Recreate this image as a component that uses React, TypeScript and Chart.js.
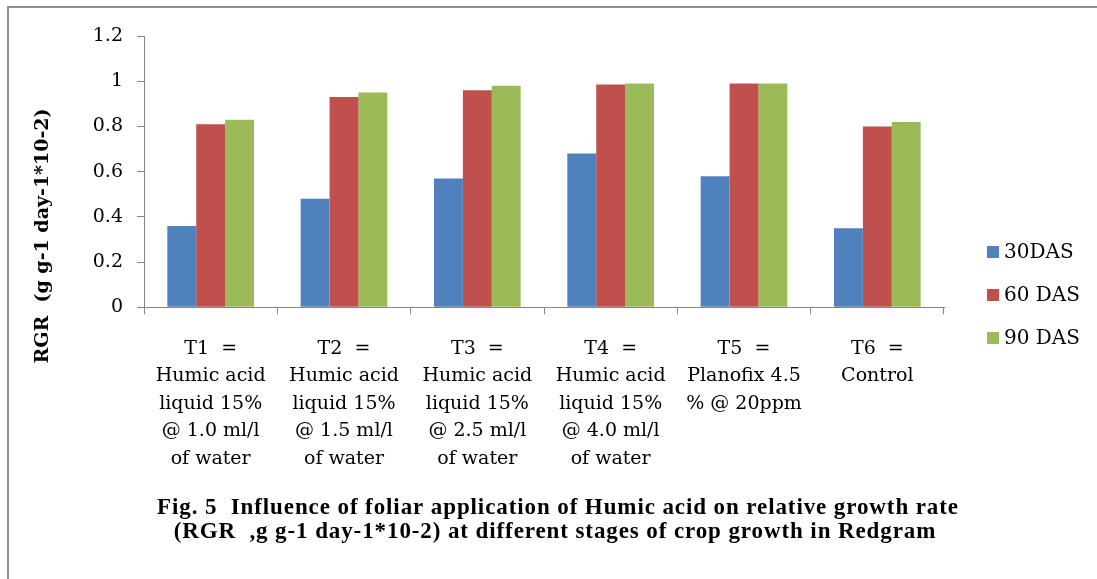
import React, { useEffect, useRef } from "react";
import { Chart, registerables } from "chart.js";

Chart.register(...registerables);

const categories: string[][] = [
  ["T1  =", "Humic acid", "liquid 15%", "@ 1.0 ml/l", "of water"],
  ["T2  =", "Humic acid", "liquid 15%", "@ 1.5 ml/l", "of water"],
  ["T3  =", "Humic acid", "liquid 15%", "@ 2.5 ml/l", "of water"],
  ["T4  =", "Humic acid", "liquid 15%", "@ 4.0 ml/l", "of water"],
  ["T5  =", "Planofix 4.5", "% @ 20ppm"],
  ["T6  =", "Control"],
];

const seriesNames = ["30DAS", "60 DAS", "90 DAS"];
const das30 = [0.36, 0.48, 0.57, 0.68, 0.58, 0.35];
const das60 = [0.81, 0.93, 0.96, 0.985, 0.99, 0.8];
const das90 = [0.83, 0.95, 0.98, 0.99, 0.99, 0.82];
const seriesColors = ["#4F81BD", "#C0504D", "#9BBB59"];

const yMin = 0;
const yMax = 1.2;
const yStep = 0.2;

const yTitle = "RGR  (g g-1 day-1*10-2)";
const captionLines = [
  "Fig. 5  Influence of foliar application of Humic acid on relative growth rate",
  "(RGR  ,g g-1 day-1*10-2) at different stages of crop growth in Redgram",
];

const AXIS_GRAY = "#868686";
const SERIF = "'DejaVu Serif', 'Liberation Serif', serif";

const decorations = {
  id: "decorations",
  afterDraw(chart: any) {
    const ctx = chart.ctx as CanvasRenderingContext2D;
    ctx.save();
    // y axis title
    ctx.translate(43, 236);
    ctx.rotate(-Math.PI / 2);
    ctx.font = `bold 19px ${SERIF}`;
    ctx.fillStyle = "#000";
    ctx.textAlign = "center";
    ctx.textBaseline = "middle";
    ctx.fillText(yTitle, 0, 0);
    ctx.restore();

    // legend
    ctx.save();
    ctx.font = `20px ${SERIF}`;
    ctx.textAlign = "left";
    ctx.textBaseline = "middle";
    const rows = [252, 295, 338];
    chart.data.datasets.forEach((ds: any, i: number) => {
      const y = rows[i];
      ctx.fillStyle = ds.backgroundColor;
      ctx.fillRect(987, y - 6, 12, 12);
      ctx.fillStyle = "#000";
      ctx.fillText(ds.label, 1004, y + 1);
    });
    ctx.restore();

    // caption
    ctx.save();
    ctx.font = `bold 23px 'Liberation Serif', serif`;
    (ctx as any).letterSpacing = "0.9px";
    ctx.fillStyle = "#000";
    ctx.textAlign = "center";
    ctx.textBaseline = "middle";
    ctx.fillText(captionLines[0], 558, 508);
    ctx.fillText(captionLines[1], 555, 532);
    ctx.restore();
  },
};

export default function App() {
  const canvasRef = useRef<HTMLCanvasElement | null>(null);

  useEffect(() => {
    if (!canvasRef.current) return;
    const chart = new Chart(canvasRef.current, {
      type: "bar",
      data: {
        labels: categories,
        datasets: [das30, das60, das90].map((vals, i) => ({
          label: seriesNames[i],
          data: vals,
          backgroundColor: seriesColors[i],
          borderWidth: 0,
          barPercentage: 1,
          categoryPercentage: 0.65,
        })),
      },
      options: {
        responsive: false,
        animation: false,
        layout: { padding: { left: 0, right: 153, top: 36, bottom: 0 } },
        plugins: {
          legend: { display: false },
          title: { display: false },
          tooltip: { enabled: false },
        },
        scales: {
          x: {
            grid: {
              display: true,
              drawOnChartArea: false,
              drawTicks: true,
              tickLength: 7,
              color: AXIS_GRAY,
              offset: true,
            },
            border: { color: AXIS_GRAY, width: 1 },
            ticks: {
              color: "#000",
              font: { family: SERIF, size: 19, lineHeight: "27.5px" },
              padding: 21,
              maxRotation: 0,
              autoSkip: false,
            },
            afterFit: (s: any) => {
              s.height = 579 - 307.3;
            },
          },
          y: {
            min: yMin,
            max: yMax,
            ticks: {
              stepSize: yStep,
              padding: 14,
              color: "#000",
              font: { family: SERIF, size: 19 },
              callback: (v: any) => String(Number(Number(v).toFixed(1))),
            },
            grid: {
              drawOnChartArea: false,
              drawTicks: true,
              tickLength: 7,
              color: AXIS_GRAY,
            },
            border: { color: AXIS_GRAY, width: 1 },
            afterFit: (s: any) => {
              s.width = 144;
            },
          },
        },
      },
      plugins: [decorations],
    });
    return () => chart.destroy();
  }, []);

  return (
    <div
      style={{
        position: "fixed",
        left: 0,
        top: 0,
        width: 1097,
        height: 579,
        overflow: "hidden",
        background: "#fff",
      }}
    >
      <canvas
        ref={canvasRef}
        width={1097}
        height={579}
        style={{ position: "absolute", left: 0, top: 0, width: 1097, height: 579 }}
      />
      <div
        style={{
          position: "absolute",
          left: 7,
          top: 6,
          width: 1100,
          height: 600,
          borderLeft: "2px solid #8f8f8f",
          borderTop: "2px solid #8f8f8f",
          pointerEvents: "none",
        }}
      />
    </div>
  );
}
